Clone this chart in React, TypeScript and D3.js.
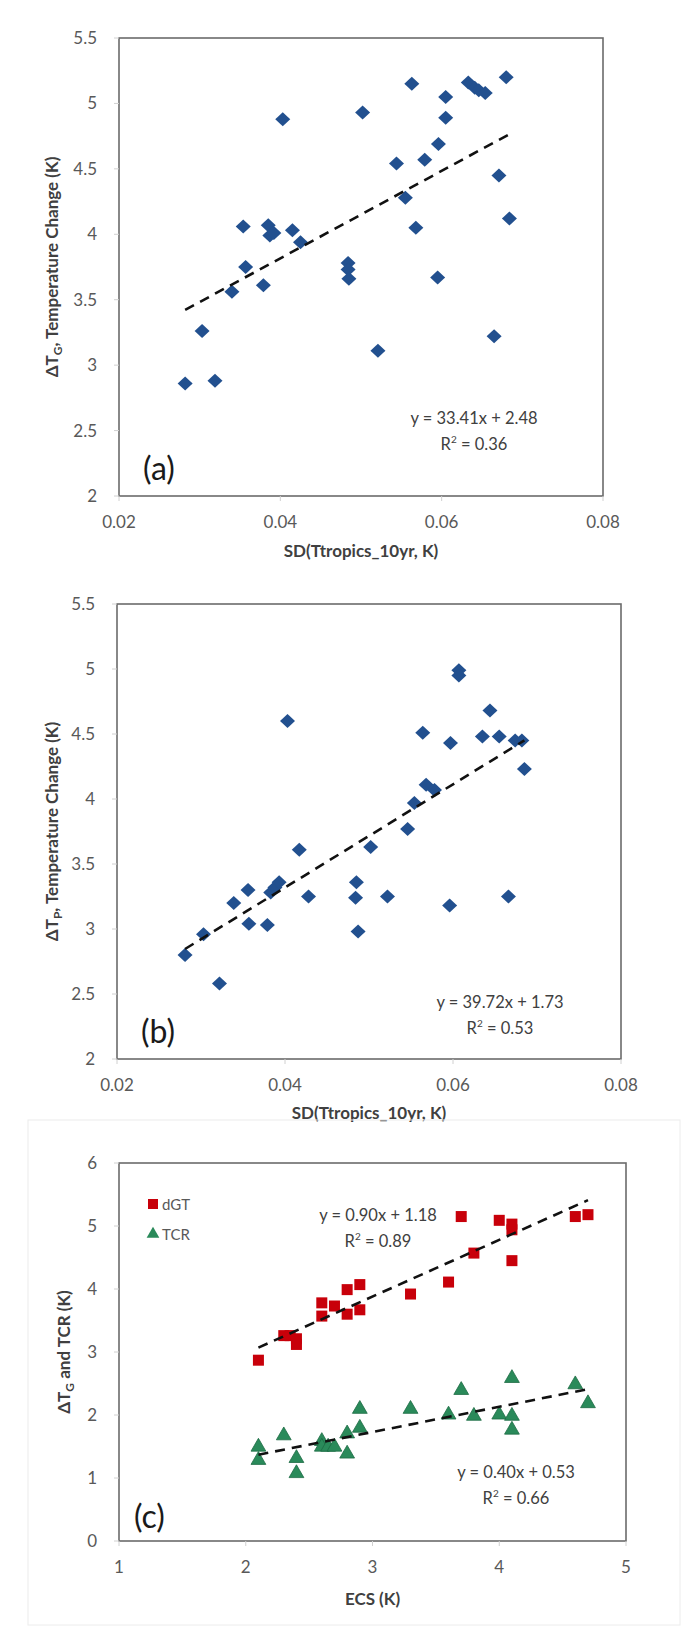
import React from 'react';
import * as d3 from 'd3';

// Panel (a): SD(Ttropics_10yr) vs ΔT_G
const aSD = [0.0282, 0.0319, 0.0303, 0.034, 0.0357, 0.0354, 0.0379, 0.0385, 0.0387, 0.0392, 0.0403, 0.0415, 0.0425, 0.0484, 0.0484, 0.0485, 0.0502, 0.0521, 0.0544, 0.0555, 0.0563, 0.0568, 0.0579, 0.0596, 0.0595, 0.0605, 0.0605, 0.0633, 0.0641, 0.0646, 0.0654, 0.0665, 0.0671, 0.068, 0.0684];
const aDT = [2.86, 2.88, 3.26, 3.56, 3.75, 4.06, 3.61, 4.07, 3.99, 4.01, 4.88, 4.03, 3.94, 3.78, 3.73, 3.66, 4.93, 3.11, 4.54, 4.28, 5.15, 4.05, 4.57, 4.69, 3.67, 5.05, 4.89, 5.16, 5.12, 5.1, 5.08, 3.22, 4.45, 5.2, 4.12];
const aFit = { slope: 33.41, intercept: 2.48, eq: 'y = 33.41x + 2.48', r2: '0.36' };

// Panel (b): SD(Ttropics_10yr) vs ΔT_P
const bSD = [0.0281, 0.0303, 0.0322, 0.0339, 0.0356, 0.0357, 0.0379, 0.0383, 0.0388, 0.0393, 0.0403, 0.0417, 0.0428, 0.0485, 0.0484, 0.0487, 0.0502, 0.0522, 0.0546, 0.0554, 0.0564, 0.0568, 0.0578, 0.0597, 0.0596, 0.0607, 0.0607, 0.0635, 0.0644, 0.0655, 0.0666, 0.0674, 0.0682, 0.0685];
const bDT = [2.8, 2.96, 2.58, 3.2, 3.3, 3.04, 3.03, 3.28, 3.32, 3.36, 4.6, 3.61, 3.25, 3.36, 3.24, 2.98, 3.63, 3.25, 3.77, 3.97, 4.51, 4.11, 4.07, 4.43, 3.18, 4.99, 4.95, 4.48, 4.68, 4.48, 3.25, 4.45, 4.45, 4.23];
const bFit = { slope: 39.72, intercept: 1.73, eq: 'y = 39.72x + 1.73', r2: '0.53' };

// Panel (c): ECS vs dGT and TCR
const ecsG = [2.1, 2.3, 2.35, 2.4, 2.4, 2.6, 2.6, 2.7, 2.8, 2.8, 2.9, 2.9, 3.3, 3.6, 3.7, 3.8, 4.0, 4.1, 4.1, 4.1, 4.6, 4.7];
const dGT = [2.87, 3.26, 3.26, 3.21, 3.12, 3.78, 3.57, 3.73, 3.99, 3.6, 4.07, 3.67, 3.92, 4.11, 5.15, 4.57, 5.09, 5.03, 4.94, 4.45, 5.15, 5.18];
const ecsT = [2.1, 2.1, 2.3, 2.4, 2.4, 2.6, 2.6, 2.65, 2.7, 2.8, 2.8, 2.9, 2.9, 3.3, 3.6, 3.7, 3.8, 4.0, 4.1, 4.1, 4.1, 4.6, 4.7];
const tcr = [1.51, 1.3, 1.69, 1.33, 1.09, 1.6, 1.51, 1.51, 1.51, 1.72, 1.4, 2.11, 1.81, 2.11, 2.02, 2.41, 2.0, 2.02, 2.6, 2.0, 1.78, 2.5, 2.2];
const gFit = { slope: 0.9, intercept: 1.18, eq: 'y = 0.90x + 1.18', r2: '0.89' };
const tFit = { slope: 0.4, intercept: 0.53, eq: 'y = 0.40x + 0.53', r2: '0.66' };

const sdTicks = [0.02, 0.04, 0.06, 0.08];
const dtTicks = [2, 2.5, 3, 3.5, 4, 4.5, 5, 5.5];
const ecsTicks = [1, 2, 3, 4, 5];
const cTicks = [0, 1, 2, 3, 4, 5, 6];

const FONT = 'Lato, "Open Sans", sans-serif';
const TICK_COLOR = '#595959';
const BLUE = '#22508f';
const RED = '#c8000a';
const GREEN = '#2a8a5a';
const TICK_FS = 17;
const TITLE_FS = 17;
const EQ_FS = 16.5;

type Box = { left: number; right: number; top: number; bottom: number };

function Frame({ box, x, y, xTicks, yTicks, xFmt, yFmt, xTitle, yTitle, titleY, yTitleX }: any) {
  return (
    <g>
      <rect x={box.left} y={box.top} width={box.right - box.left} height={box.bottom - box.top} fill="#fff" stroke="#6b6b6b" strokeWidth={1.6} />
      {yTicks.map((t: number) => (
        <g key={'y' + t}>
          <line x1={box.left - 5} x2={box.left} y1={y(t)} y2={y(t)} stroke="#d0d0d0" />
          <text x={box.left - 22} y={y(t)} dy="0.35em" textAnchor="end" fontSize={TICK_FS} fill={TICK_COLOR} fontFamily={FONT}>{yFmt(t)}</text>
        </g>
      ))}
      {xTicks.map((t: number) => (
        <g key={'x' + t}>
          <line x1={x(t)} x2={x(t)} y1={box.bottom} y2={box.bottom + 5} stroke="#d0d0d0" />
          <text x={x(t)} y={box.bottom + 26} dy="0.35em" textAnchor="middle" fontSize={TICK_FS} fill={TICK_COLOR} fontFamily={FONT}>{xFmt(t)}</text>
        </g>
      ))}
      <text x={(box.left + box.right) / 2} y={titleY} textAnchor="middle" fontSize={TITLE_FS} fontWeight="bold" fill="#404040" fontFamily={FONT}>{xTitle}</text>
      <text transform={`translate(${yTitleX},${(box.top + box.bottom) / 2}) rotate(-90)`} textAnchor="middle" fontSize={TITLE_FS} fontWeight="bold" fill="#404040" fontFamily={FONT}>{yTitle}</text>
    </g>
  );
}

function diamond(cx: number, cy: number) {
  const w = 7.5, h = 7;
  return `M${cx},${cy - h}L${cx + w},${cy}L${cx},${cy + h}L${cx - w},${cy}Z`;
}

function TrendLine({ fit, xs, x, y }: any) {
  const [x0, x1] = d3.extent(xs) as [number, number];
  const line = d3.line<number>().x((v) => x(v)).y((v) => y(fit.slope * v + fit.intercept));
  return <path d={line([x0, x1]) || ''} fill="none" stroke="#111" strokeWidth={2.6} strokeDasharray="10,7" />;
}

function Equation({ fit, cx, cy }: any) {
  return (
    <g>
      <text x={cx} y={cy} textAnchor="middle" fontSize={EQ_FS} fill="#404040" fontFamily={FONT}>{fit.eq}</text>
      <text x={cx} y={cy + 26} textAnchor="middle" fontSize={EQ_FS} fill="#404040" fontFamily={FONT}>R<tspan fontSize={10} dy={-7}>2</tspan><tspan dy={7}> = {fit.r2}</tspan></text>
    </g>
  );
}

function SDPanel({ box, xs, ys, fit, sub, label, eqPos, titleY }: any) {
  const x = d3.scaleLinear().domain([0.02, 0.08]).range([box.left, box.right]);
  const y = d3.scaleLinear().domain([2, 5.5]).range([box.bottom, box.top]);
  const fmtX = (v: number) => d3.format('.2f')(v);
  const fmtY = (v: number) => String(v);
  const yTitle = (
    <>
      ΔT<tspan fontSize={12} dy={4}>{sub}</tspan><tspan dy={-4}>, Temperature Change (K)</tspan>
    </>
  );
  return (
    <g>
      <Frame box={box} x={x} y={y} xTicks={sdTicks} yTicks={dtTicks} xFmt={fmtX} yFmt={fmtY}
        xTitle="SD(Ttropics_10yr, K)" yTitle={yTitle} titleY={titleY} yTitleX={58} />
      {xs.map((v: number, i: number) => (
        <path key={i} d={diamond(x(v), y(ys[i]))} fill={BLUE} />
      ))}
      <TrendLine fit={fit} xs={xs} x={x} y={y} />
      <Equation fit={fit} cx={eqPos[0]} cy={eqPos[1]} />
      <text x={box.left + 24} y={box.bottom - 16} fontSize={32} fill="#1a1a1a" fontFamily={FONT}>{label}</text>
    </g>
  );
}

function ECSPanel({ box }: { box: Box }) {
  const x = d3.scaleLinear().domain([1, 5]).range([box.left, box.right]);
  const y = d3.scaleLinear().domain([0, 6]).range([box.bottom, box.top]);
  const tri = d3.symbol().type(d3.symbolTriangle).size(95);
  const yTitle = (
    <>
      ΔT<tspan fontSize={12} dy={4}>G</tspan><tspan dy={-4}> and TCR (K)</tspan>
    </>
  );
  return (
    <g>
      <rect x={28} y={1120} width={652} height={505} fill="none" stroke="#ececec" />
      <Frame box={box} x={x} y={y} xTicks={ecsTicks} yTicks={cTicks} xFmt={(v: number) => String(v)} yFmt={(v: number) => String(v)}
        xTitle="ECS (K)" yTitle={yTitle} titleY={1605} yTitleX={70} />
      {ecsG.map((v, i) => (
        <rect key={'g' + i} x={x(v) - 5.5} y={y(dGT[i]) - 5.5} width={11} height={11} fill={RED} />
      ))}
      {ecsT.map((v, i) => (
        <path key={'t' + i} d={tri() || ''} transform={`translate(${x(v)},${y(tcr[i]) + 1})`} fill={GREEN} stroke="#1d6b44" strokeWidth={0.8} />
      ))}
      <TrendLine fit={gFit} xs={ecsG} x={x} y={y} />
      <TrendLine fit={tFit} xs={ecsT} x={x} y={y} />
      <rect x={148} y={1199} width={10} height={10} fill={RED} />
      <text x={162} y={1210} fontSize={15} fill="#595959" fontFamily={FONT}>dGT</text>
      <path d={d3.symbol().type(d3.symbolTriangle).size(70)() || ''} transform="translate(153,1234)" fill={GREEN} />
      <text x={162} y={1240} fontSize={15} fill="#595959" fontFamily={FONT}>TCR</text>
      <Equation fit={gFit} cx={378} cy={1221} />
      <Equation fit={tFit} cx={516} cy={1478} />
      <text x={box.left + 15} y={box.bottom - 13} fontSize={32} fill="#1a1a1a" fontFamily={FONT}>(c)</text>
    </g>
  );
}

export default function App() {
  const boxA: Box = { left: 119, right: 603, top: 38, bottom: 496 };
  const boxB: Box = { left: 117, right: 621, top: 604, bottom: 1059 };
  const boxC: Box = { left: 119, right: 626, top: 1163, bottom: 1541 };
  return (
    <svg width={687} height={1629} style={{ position: 'absolute', left: 0, top: 0, background: '#fff' }}>
      <rect width={687} height={1629} fill="#fff" />
      <SDPanel box={boxA} xs={aSD} ys={aDT} fit={aFit} sub="G" label="(a)" eqPos={[474, 424]} titleY={557} />
      <SDPanel box={boxB} xs={bSD} ys={bDT} fit={bFit} sub="P" label="(b)" eqPos={[500, 1008]} titleY={1119} />
      <ECSPanel box={boxC} />
    </svg>
  );
}
